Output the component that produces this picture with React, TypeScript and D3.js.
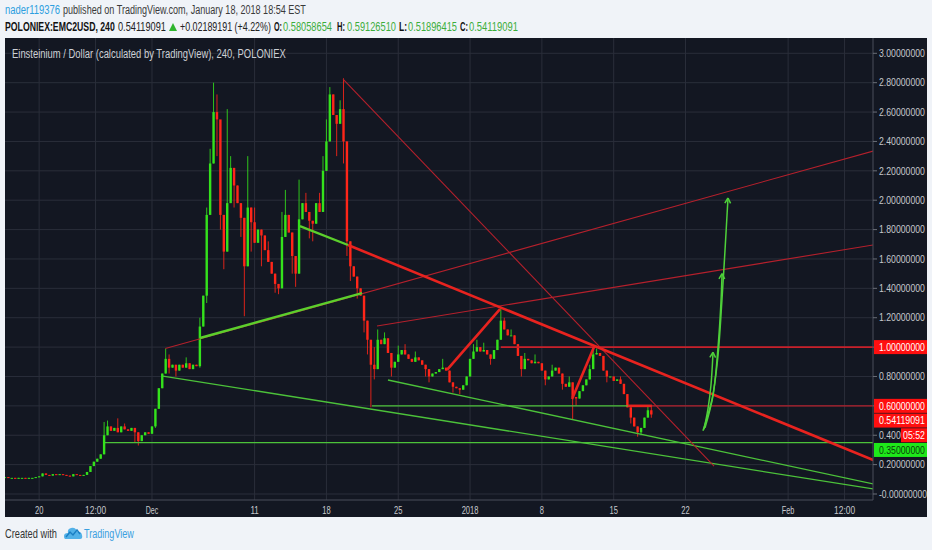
import React, { useRef, useEffect } from 'react';
import * as d3 from 'd3';

const W = 932;
const H = 550;
const DAY = 864e5;
const DEC1 = Date.UTC(2017, 11, 1);
const at = (d: number) => new Date(DEC1 + d * DAY);

// 8h candles, first one Nov 16 16:00 UTC
const FIRST_CANDLE = Date.UTC(2017, 10, 16, 16);
const STEP = 8 * 3600e3;

const closes = [
  0.115, 0.11, 0.11, 0.105, 0.11, 0.11, 0.105, 0.11, 0.11, 0.115,
  0.12, 0.14, 0.13, 0.125, 0.135, 0.13, 0.135, 0.13, 0.125, 0.12,
  0.135, 0.13, 0.125, 0.13, 0.15, 0.19, 0.22, 0.24, 0.27, 0.4,
  0.46, 0.43, 0.45, 0.42, 0.46, 0.44, 0.43, 0.45, 0.42, 0.36,
  0.4, 0.42, 0.41, 0.46, 0.58, 0.72, 0.82, 0.92, 0.86, 0.88,
  0.84, 0.88, 0.86, 0.89, 0.85, 0.88, 0.87, 1.14, 1.35, 1.9,
  2.25, 2.6, 2.55, 1.9, 1.65, 1.98, 2.22, 2.1, 1.98, 1.88,
  1.55, 1.95, 1.85, 1.71, 1.8, 1.76, 1.66, 1.58, 1.5, 1.43,
  1.4, 1.75, 1.9, 1.78, 1.62, 1.5, 1.87, 1.98, 1.92, 1.86,
  1.84, 1.98, 1.92, 2.2, 2.4, 2.72, 2.58, 2.52, 2.62, 2.4,
  1.72, 1.55, 1.48, 1.4, 1.35, 1.18, 1.05, 0.88, 0.85, 1.05,
  1.02, 1.06, 0.96, 0.86, 0.9, 0.95, 0.98, 0.95, 0.92, 0.9,
  0.93, 0.91, 0.88, 0.85, 0.8, 0.82, 0.83, 0.85, 0.86, 0.84,
  0.76, 0.73, 0.72, 0.71, 0.74, 0.8, 0.92, 0.97, 1.0, 0.97,
  0.98, 0.95, 0.92, 0.98, 1.05, 1.18, 1.12, 1.08, 1.08, 1.02,
  0.94, 0.85, 0.92, 0.91, 0.89, 0.9, 0.89, 0.84, 0.78, 0.8,
  0.84, 0.86, 0.82, 0.75, 0.73, 0.76, 0.66, 0.65, 0.7, 0.74,
  0.78, 0.85, 0.95, 0.96, 0.94, 0.84, 0.8, 0.8, 0.77, 0.78,
  0.75, 0.68, 0.59, 0.52, 0.46, 0.42, 0.45, 0.52, 0.57, 0.54119091,
];

// [candle index, high, low] for the visible wicks
const wicks: [number, number | null, number | null][] = [
  [29, 0.49, null], [30, 0.5, 0.4], [33, 0.515, null], [35, 0.48, null], [38, null, 0.35],
  [39, 0.42, 0.33], [44, null, 0.45], [47, 0.99, null], [48, 0.95, 0.82], [50, null, 0.8],
  [53, 0.93, null], [57, 1.2, 0.86], [59, 1.95, 1.3], [60, 2.35, null], [61, 2.8, null],
  [62, 2.72, 2.3], [63, 2.45, 1.8], [64, null, 1.53], [65, 2.62, null], [66, 2.3, null],
  [67, null, 1.95], [69, null, 1.75], [70, null, 1.21], [71, 2.3, null], [72, null, 1.65],
  [73, 1.95, null], [75, null, 1.55], [77, 1.72, null], [79, null, 1.37], [80, null, 1.36],
  [81, 1.92, null], [82, 2.07, null], [84, null, 1.5], [85, null, 1.41], [86, 2.14, null],
  [88, 2.05, null], [89, null, 1.74], [90, null, 1.72], [92, 2.05, null], [93, 2.3, null],
  [94, 2.55, null], [95, 2.77, null], [96, 2.72, null], [97, null, 2.3], [98, 2.68, null],
  [99, 2.83, 2.25], [100, 2.4, 1.62], [101, null, 1.45], [103, null, 1.33], [105, null, 1.1],
  [106, null, 0.95], [107, 1.05, 0.59], [108, 1.0, 0.78], [109, 1.12, null], [111, 1.1, null],
  [113, null, 0.8], [115, 1.01, null], [117, 1.02, null], [120, 0.97, null], [123, null, 0.8],
  [124, null, 0.76], [128, 0.92, null], [131, null, 0.69], [133, null, 0.68], [137, 1.02, null],
  [138, 1.05, null], [140, 1.03, null], [142, null, 0.88], [145, 1.27, null], [146, 1.2, null],
  [148, 1.12, null], [151, null, 0.8], [152, 0.96, null], [155, 0.95, null], [158, null, 0.74],
  [160, 0.88, null], [163, null, 0.71], [165, 0.8, null], [166, null, 0.51], [167, null, 0.6],
  [171, 0.88, null], [172, 1.0, null], [173, 0.99, null], [176, null, 0.76], [180, 0.8, null],
  [183, null, 0.48], [185, null, 0.39], [186, null, 0.4], [188, 0.6, null], [189, 0.5913, 0.519],
];

const priceTicks = [3, 2.8, 2.6, 2.4, 2.2, 2, 1.8, 1.6, 1.4, 1.2, 1, 0.8, 0.6, 0.4, 0.2, 0];

// label, days from Dec 1
const timeTicks: [string, number][] = [
  ['20', -11], ['12:00', -5.5], ['Dec', 0], ['11', 10], ['18', 17], ['25', 24],
  ['2018', 31], ['8', 38], ['15', 45], ['22', 52], ['Feb', 62], ['12:00', 67.5],
];

type Pt = [number, number]; // [days from Dec 1, price]

const thinRedLines: [Pt, Pt][] = [
  [[1.3, 0.99], [70.3, 2.335]],
  [[21.93, 1.144], [70.3, 1.695]],
  [[18.62, 2.825], [54.78, 0.19]],
  [[48.73, 0.6], [70.3, 0.6]],
];
const levelRedLines: [Pt, Pt][] = [
  [[34.0, 1.0], [70.3, 1.0]],
];
const thickRedLines: [Pt, Pt][] = [
  [[19.1, 1.695], [70.3, 0.231]],
  [[28.75, 0.845], [33.92, 1.259]],
  [[40.94, 0.647], [43.08, 1.0]],
  [[46.39, 0.6], [48.73, 0.6]],
];
const thickGreenLines: [Pt, Pt][] = [
  [[4.68, 1.062], [20.47, 1.368]],
  [[14.42, 1.824], [19.1, 1.695]],
];
const thinGreenLines: [Pt, Pt][] = [
  [[1.07, 0.803], [70.3, 0.034]],
  [[23.0, 0.776], [70.3, 0.068]],
  [[21.44, 0.6], [46.39, 0.6]],
  [[-4.58, 0.35], [70.3, 0.35]],
];
const arrows: Pt[][] = [
  [[53.7, 0.43], [54.6, 0.65], [55.15, 0.93], [55.55, 1.32], [55.85, 1.66], [56.14, 2.015]],
  [[53.9, 0.45], [54.68, 0.67], [55.17, 1.0], [55.45, 1.3], [55.56, 1.5]],
  [[53.8, 0.44], [54.2, 0.585], [54.48, 0.74], [54.68, 0.965]],
];

const lastPrice = 0.54119091;
const redLevels = [1.0, 0.6];
const greenLevels = [0.35];

const UP = '#34e21c';
const DOWN = '#ff2619';
const FONT = '"Liberation Sans", Arial, sans-serif';

const App: React.FC = () => {
  const svgRef = useRef<SVGSVGElement>(null);

  useEffect(() => {
    if (!svgRef.current) return;
    const svg = d3.select(svgRef.current);
    svg.selectAll('*').remove();

    const L = 5, R = 873, T = 38, B = 500;
    const x = d3.scaleUtc().domain([at(-14.327), at(70.273)]).range([L, R]);
    const y = d3.scaleLinear().domain([0, 3]).range([494, 53.3]);
    const px = (d: number) => x(at(d));

    // text squeezed horizontally to the width it has in the screenshot
    const text = (g: any, tx: number, ty: number, str: string, o: any = {}) => {
      const t = g.append('text')
        .attr('transform', `translate(${tx},${ty})`)
        .attr('font-size', o.size || 12)
        .attr('fill', o.fill || '#333')
        .attr('font-weight', o.weight || 'normal')
        .attr('text-anchor', o.anchor || 'start')
        .text(str);
      if (o.width) {
        const n = (t.node() as SVGTextElement).getComputedTextLength();
        if (n > 0) t.attr('transform', `translate(${tx},${ty}) scale(${(o.width / n).toFixed(4)},1)`);
      }
      return t;
    };

    // page + chart background
    svg.append('rect').attr('width', W).attr('height', H).attr('fill', '#f0f3f8');
    svg.append('rect').attr('x', 5).attr('y', T).attr('width', 922).attr('height', 479).attr('fill', '#131722');

    const defs = svg.append('defs');
    defs.append('clipPath').attr('id', 'plot-clip')
      .append('rect').attr('x', L).attr('y', T).attr('width', R - L).attr('height', B - T);

    // grid
    const grid = svg.append('g').attr('stroke', '#2a2e3a').attr('stroke-width', 1);
    priceTicks.forEach(v => {
      grid.append('line').attr('x1', L).attr('x2', R).attr('y1', y(v)).attr('y2', y(v));
    });
    timeTicks.forEach(([, d]) => {
      grid.append('line').attr('x1', px(d)).attr('x2', px(d)).attr('y1', T).attr('y2', B);
    });

    const plot = svg.append('g').attr('clip-path', 'url(#plot-clip)');

    // candles
    const wickMap = new Map(wicks.map(w => [w[0], w]));
    const cg = plot.append('g');
    closes.forEach((c, i) => {
      const o = i ? closes[i - 1] : c;
      const t = new Date(FIRST_CANDLE + i * STEP);
      const cx = x(t);
      const col = c >= o ? UP : DOWN;
      const w = wickMap.get(i);
      const hi = w && w[1] != null ? w[1] : Math.max(o, c);
      const lo = w && w[2] != null ? w[2] : Math.min(o, c);
      cg.append('line')
        .attr('x1', cx).attr('x2', cx).attr('y1', y(hi)).attr('y2', y(lo))
        .attr('stroke', col).attr('stroke-width', 1).attr('opacity', 0.85);
      const top = y(Math.max(o, c));
      cg.append('rect')
        .attr('x', cx - 1.2).attr('y', top)
        .attr('width', 2.4).attr('height', Math.max(1, y(Math.min(o, c)) - top))
        .attr('fill', col);
    });

    // drawings
    const seg = (lines: [Pt, Pt][], color: string, width: number) => {
      lines.forEach(([a, b]) => {
        plot.append('line')
          .attr('x1', px(a[0])).attr('y1', y(a[1]))
          .attr('x2', px(b[0])).attr('y2', y(b[1]))
          .attr('stroke', color).attr('stroke-width', width);
      });
    };
    seg(thinGreenLines, '#4cc23a', 1.3);
    seg(thinRedLines, '#b5202c', 1.1);
    seg(levelRedLines, '#c8202a', 1.6);
    seg(thickRedLines, '#e8231f', 2.6);
    seg(thickGreenLines, '#5ccf2c', 2.4);

    const curve = d3.line<Pt>().x(p => px(p[0])).y(p => y(p[1])).curve(d3.curveCatmullRom);
    arrows.forEach(pts => {
      plot.append('path').attr('d', curve(pts) || '')
        .attr('fill', 'none').attr('stroke', '#4fd13a').attr('stroke-width', 1.5);
      const p1 = pts[pts.length - 1], p0 = pts[pts.length - 2];
      const x1 = px(p1[0]), y1 = y(p1[1]);
      const ang = Math.atan2(y1 - y(p0[1]), x1 - px(p0[0]));
      [0.5, -0.5].forEach(da => {
        plot.append('line')
          .attr('x1', x1).attr('y1', y1)
          .attr('x2', x1 - 6 * Math.cos(ang + da)).attr('y2', y1 - 6 * Math.sin(ang + da))
          .attr('stroke', '#4fd13a').attr('stroke-width', 1.5);
      });
    });

    // chart title
    const tg = svg.append('g').attr('font-family', FONT);
    text(tg, 12, 58, 'Einsteinium / Dollar (calculated by TradingView), 240, POLONIEX', { fill: '#cdd0d5', size: 12, width: 274 });

    // axes
    const ax = svg.append('g').attr('font-family', FONT);
    ax.append('line').attr('x1', R).attr('x2', R).attr('y1', T).attr('y2', B).attr('stroke', '#4a4e5a');
    ax.append('line').attr('x1', L).attr('x2', R).attr('y1', B).attr('y2', B).attr('stroke', '#4a4e5a');
    // the countdown box hides the end of the 0.4 label
    defs.append('clipPath').attr('id', 'tick-clip')
      .append('rect').attr('x', R).attr('y', y(0.4) - 8).attr('width', 28).attr('height', 16);
    priceTicks.forEach(v => {
      ax.append('line').attr('x1', R).attr('x2', R + 4).attr('y1', y(v)).attr('y2', y(v)).attr('stroke', '#6a6e78');
      const holder = v === 0.4 ? ax.append('g').attr('clip-path', 'url(#tick-clip)') : ax;
      text(holder, 879, y(v) + 3.7, v === 0 ? '-0.00000000' : v.toFixed(8), { fill: '#c6c8cd', size: 10.5, width: v === 0 ? 48 : 46 });
    });
    timeTicks.forEach(([lab, d]) => {
      text(ax, px(d), 514, lab, { fill: '#c6c8cd', size: 10, anchor: 'middle', width: lab.length * 4.2 });
    });

    // price labels on the scale
    const boxes: { v: number; label: string; bg: string; fg: string; x: number; w: number }[] = [];
    redLevels.forEach(v => boxes.push({ v, label: v.toFixed(8), bg: '#ff0f0f', fg: '#fff', x: 874, w: 53 }));
    boxes.push({ v: lastPrice, label: lastPrice.toFixed(8), bg: '#ff0f0f', fg: '#fff', x: 874, w: 53 });
    boxes.push({ v: lastPrice - 0.0001, label: '05:52', bg: '#ff0f0f', fg: '#fff', x: 901, w: 26 });
    greenLevels.forEach(v => boxes.push({ v, label: v.toFixed(8), bg: '#1ee81a', fg: '#0b3d0b', x: 874, w: 53 }));
    boxes.sort((a, b) => b.v - a.v);
    let prev = -Infinity;
    boxes.forEach(bx => {
      const cy = Math.max(y(bx.v), prev + 14.7);
      prev = cy;
      ax.append('rect').attr('x', bx.x).attr('y', cy - 7).attr('width', bx.w).attr('height', 14).attr('fill', bx.bg);
      text(ax, bx.x + (bx.w < 30 ? 2 : 5), cy + 3.7, bx.label, { fill: bx.fg, size: 10.5, width: bx.w < 30 ? 22 : 46 });
    });

    // header
    const hd = svg.append('g').attr('font-family', FONT);
    text(hd, 5, 14, 'nader119376', { fill: '#2d9fe0', width: 55 });
    text(hd, 63, 14, 'published on TradingView.com, January 18, 2018 18:54 EST', { fill: '#3a3a3a', width: 243 });
    text(hd, 5, 31, 'POLONIEX:EMC2USD, 240', { fill: '#111', weight: 'bold', width: 110 });
    text(hd, 118, 31, lastPrice.toFixed(8), { fill: '#222', width: 48 });
    hd.append('polygon').attr('points', '169,31 177,31 173,23').attr('fill', '#2fb52f');
    text(hd, 180, 31, '+0.02189191 (+4.22%)', { fill: '#222', width: 91 });
    const ohlc: [string, string, number, number][] = [
      ['O:', '0.58058654', 274, 283], ['H:', '0.59126510', 337, 347],
      ['L:', '0.51896415', 399, 408], ['C:', '0.54119091', 460, 469],
    ];
    ohlc.forEach(([k, v, kx, vx]) => {
      text(hd, kx, 31, k, { fill: '#111', weight: 'bold', width: 8 });
      text(hd, vx, 31, v, { fill: '#3cae3c', width: 49 });
    });

    // footer
    const ft = svg.append('g').attr('font-family', FONT);
    text(ft, 5, 538, 'Created with', { fill: '#333', width: 52 });
    ft.append('path')
      .attr('d', 'M65,539 L80,539 Q83,539 82,535 Q81,531 77,532 Q76,527 71,528 Q67,529 68,533 Q64,533 64,536 Q64,539 65,539 Z')
      .attr('fill', '#52b1e8');
    ft.append('polyline').attr('points', '66,537 70,532 73,535 77,530 80,534')
      .attr('fill', 'none').attr('stroke', '#1b7fc4').attr('stroke-width', 1.4);
    text(ft, 84, 538, 'TradingView', { fill: '#3aa0e0', width: 50 });
  }, []);

  return (
    <svg
      ref={svgRef}
      width={W}
      height={H}
      style={{ position: 'absolute', left: 0, top: 0, fontFamily: FONT }}
    />
  );
};

export default App;
